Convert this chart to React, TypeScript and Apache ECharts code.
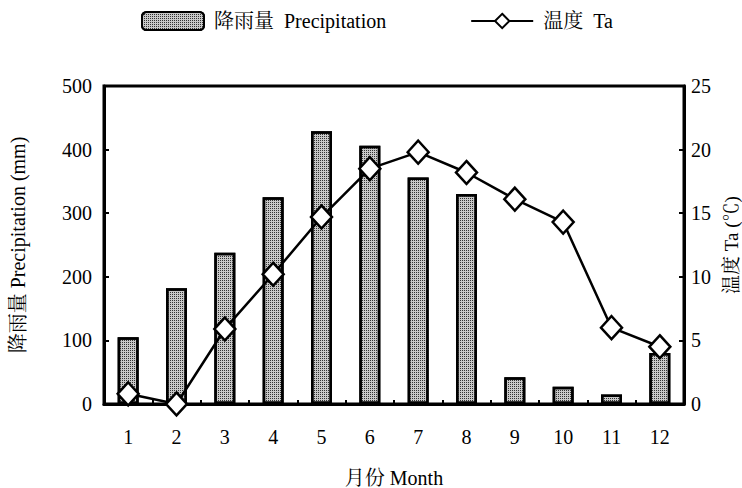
import React, { useEffect, useRef } from "react";
import * as echarts from "echarts";

const months = ["1", "2", "3", "4", "5", "6", "7", "8", "9", "10", "11", "12"];
const precipitation = [105, 182, 238, 325, 429, 406, 356, 330, 42, 27, 15, 80];
const temperature = [0.8, 0.0, 5.9, 10.2, 14.7, 18.5, 19.8, 18.2, 16.1, 14.3, 6.0, 4.5];
const leftTicks = { min: 0, max: 500, interval: 100 };
const rightTicks = { min: 0, max: 25, interval: 5 };

const FONT = "'Liberation Serif', 'Noto Serif CJK SC', 'Noto Sans CJK SC', serif";
const FS = 20;

export default function App() {
  const ref = useRef<HTMLDivElement>(null);
  useEffect(() => {
    if (!ref.current) return;
    const chart = echarts.init(ref.current, null, { renderer: "svg" });
    const decal = {
      symbol: "rect",
      symbolSize: 1,
      dashArrayX: [1, 1],
      dashArrayY: [1, 1],
      color: "#333",
      backgroundColor: "#f2f2f2",
    };
    chart.setOption({
      animation: false,
      textStyle: { fontFamily: FONT, color: "#000" },
      legend: {
        top: 6,
        left: 136,
        itemWidth: 62,
        itemHeight: 18,
        itemGap: 84,
        textStyle: { fontFamily: FONT, fontSize: FS, color: "#000", padding: [0, 0, 0, 5] },
        data: [
          { name: "降雨量  Precipitation" },
          { name: "温度  Ta" },
        ],
      },
      grid: {
        left: 104,
        right: 58,
        top: 86,
        bottom: 84,
        outerBoundsMode: "none",
        show: true,
        borderColor: "#000",
        borderWidth: 3,
        backgroundColor: "transparent",
      },
      xAxis: {
        type: "category",
        data: months,
        boundaryGap: true,
        axisLine: { show: true, lineStyle: { color: "#000", width: 3 } },
        axisTick: { show: true, inside: true, length: 4, lineStyle: { color: "#000", width: 2 } },
        axisLabel: { fontFamily: FONT, fontSize: FS, color: "#000", margin: 23 },
        name: "月份 Month",
        nameLocation: "middle",
        nameGap: 64,
        nameTextStyle: { fontFamily: FONT, fontSize: FS, color: "#000" },
      },
      yAxis: [
        {
          type: "value",
          ...leftTicks,
          position: "left",
          splitLine: { show: false },
          axisLine: { show: true, lineStyle: { color: "#000", width: 3 } },
          axisTick: { show: true, inside: true, length: 5, lineStyle: { color: "#000", width: 2 } },
          axisLabel: { fontFamily: FONT, fontSize: FS, color: "#000", margin: 12 },
          name: "降雨量 Precipitation (mm)",
          nameLocation: "middle",
          nameGap: 76,
          nameTextStyle: { fontFamily: FONT, fontSize: FS, color: "#000" },
        },
        {
          type: "value",
          ...rightTicks,
          position: "right",
          splitLine: { show: false },
          axisLine: { show: true, lineStyle: { color: "#000", width: 3 } },
          axisTick: { show: true, inside: true, length: 5, lineStyle: { color: "#000", width: 2 } },
          axisLabel: { fontFamily: FONT, fontSize: FS, color: "#000", margin: 7 },
          name: "温度 Ta (℃)",
          nameLocation: "middle",
          nameGap: 34,
          nameRotate: 90,
          nameTextStyle: { fontFamily: FONT, fontSize: 19, color: "#000" },
        },
      ],
      series: [
        {
          name: "降雨量  Precipitation",
          type: "bar",
          yAxisIndex: 0,
          data: precipitation,
          barWidth: 21,
          itemStyle: {
            color: "#c8c8c8",
            borderColor: "#000",
            borderWidth: 2.5,
            decal,
          },
        },
        {
          name: "温度  Ta",
          type: "line",
          yAxisIndex: 1,
          data: temperature,
          symbol: "diamond",
          symbolSize: [21, 23],
          showAllSymbol: true,
          clip: false,
          lineStyle: { color: "#000", width: 2.5 },
          itemStyle: { color: "#fff", borderColor: "#000", borderWidth: 2.5 },
          z: 5,
        },
      ],
    });
    return () => chart.dispose();
  }, []);
  return <div ref={ref} style={{ width: 742, height: 488, position: "absolute", left: 0, top: 0 }} />;
}
